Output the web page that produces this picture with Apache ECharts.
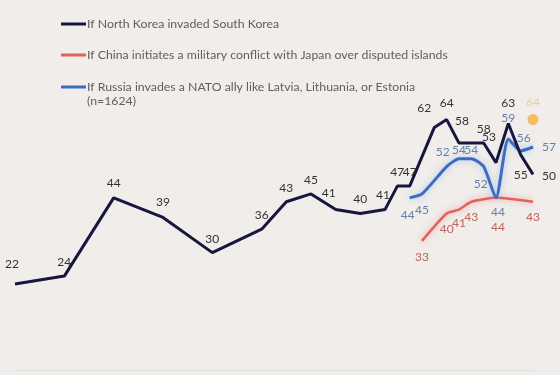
<!DOCTYPE html>
<html>
<head>
<meta charset="utf-8">
<script src="https://cdn.jsdelivr.net/npm/echarts@6/dist/echarts.min.js"></script>
<style>
html,body{margin:0;padding:0;background:#f0edea;}
#chart{width:560px;height:375px;}
</style>
</head>
<body>
<div id="chart"></div>
<script>
// ---- data ----
const seriesNames = [
  'If North Korea invaded South Korea',
  'If China initiates a military conflict with Japan over disputed islands',
  'If Russia invades a NATO ally like Latvia, Lithuania, or Estonia\n(n=1624)'
];
const nkYears  = [1982,1986,1990,1994,1998,2002,2004,2006,2008,2010,2012,2013,2014,2016,2017,2018,2020,2021,2022,2023,2024];
const nkValues = [22,24,44,39,30,36,43,45,41,40,41,47,47,62,64,58,58,53,63,55,50];
const chinaYears  = [2015,2017,2018,2019,2021,2024];
const chinaValues = [33,40,41,43,44,43];
const russiaYears  = [2014,2015,2017,2018,2019,2020,2021,2022,2023,2024];
const russiaValues = [44,45,52,54,54,52,44,59,56,57];
const extraYears  = [2024];
const extraValues = [64];

// ---- label offsets (style only) ----
const nkOffsets = [[-3,-20],[0,-14],[0,-15],[0,-15],[0,-14],[0,-14],[0,-14],[0,-14],[-7,-16],[0,-14],[-2,-14],[0,-14],[0,-14],[-10,-19],[0,-16],[3,-22],[0,-14],[-7,-26],[0,-20],[0,20],[16,2]];
const chinaOffsets = [[0,16],[0,16],[0,14],[0,15],[2,29],[0,15]];
const russiaOffsets = [[-2,17],[0,16],[-4,-14],[0,-9],[0,-9],[-3,18],[2,14],[0,-21],[3,-13],[16,0]];

const FONT = 'Lato';
function build(years, values, offsets){
  return years.map((y,i)=>({
    value:[y, values[i]],
    label:{offset: offsets[i]}
  }));
}
function lbl(color){
  return {show:true, position:'inside', align:'center', verticalAlign:'middle',
    color:color, fontSize:12, fontFamily:FONT,
    formatter:p=>p.value[1]};
}

const chart = echarts.init(document.getElementById('chart'), null, {renderer:'canvas'});
const legendY = [24, 55, 87];
const legendColors = ['#17163f','#e0625a','#3b6cc0'];
const graphics = [];
seriesNames.forEach((n,i)=>{
  graphics.push({type:'line', shape:{x1:61,y1:legendY[i],x2:86,y2:legendY[i]},
    style:{stroke:legendColors[i], lineWidth:3}});
  graphics.push({type:'text', x:87, y:legendY[i]-7,
    style:{text:n, fill:'#606060', font:'12.3px '+FONT, lineHeight:14}});
});

chart.setOption({
  backgroundColor:'#f0edea',
  animation:false,
  grid:{left:15, right:27, top:57, bottom:5},
  xAxis:{type:'value', min:1982, max:2024,
    axisLine:{show:true, lineStyle:{color:'#e3dfdb', width:1}},
    axisTick:{show:false}, axisLabel:{show:false}, splitLine:{show:false}},
  yAxis:{type:'value', min:0, max:80, show:false, splitLine:{show:false}},
  graphic: graphics,
  series:[
    {name:seriesNames[0], type:'line', data:build(nkYears,nkValues,nkOffsets),
      symbol:'circle', symbolSize:1, showSymbol:true, showAllSymbol:true,
      itemStyle:{color:'rgba(0,0,0,0)'},
      lineStyle:{color:'#17163f', width:3}, label:lbl('#333333'), z:3},
    {name:seriesNames[1], type:'line', data:build(chinaYears,chinaValues,chinaOffsets),
      symbol:'circle', symbolSize:1, showSymbol:true, showAllSymbol:true,
      itemStyle:{color:'rgba(0,0,0,0)'}, smooth:0.2,
      lineStyle:{color:'#e0625a', width:2.5, shadowBlur:6, shadowColor:'rgba(240,110,100,0.55)'},
      label:lbl('#c0645c'), z:2},
    {name:seriesNames[2], type:'line', data:build(russiaYears,russiaValues,russiaOffsets),
      symbol:'circle', symbolSize:1, showSymbol:true, showAllSymbol:true,
      itemStyle:{color:'rgba(0,0,0,0)'}, smooth:0.2,
      lineStyle:{color:'#3b6cc0', width:3, shadowBlur:6, shadowColor:'rgba(120,170,240,0.6)'},
      label:lbl('#6580aa'), z:2},
    {name:'extra', type:'scatter', data:extraYears.map((y,i)=>[y,extraValues[i]]),
      symbolSize:11, itemStyle:{color:'#f4b33d'},
      label:{show:true, position:'top', distance:6, color:'#f0c57a', fontSize:12, fontFamily:FONT,
        formatter:p=>p.value[1]}, z:4}
  ]
});
</script>
</body>
</html>
